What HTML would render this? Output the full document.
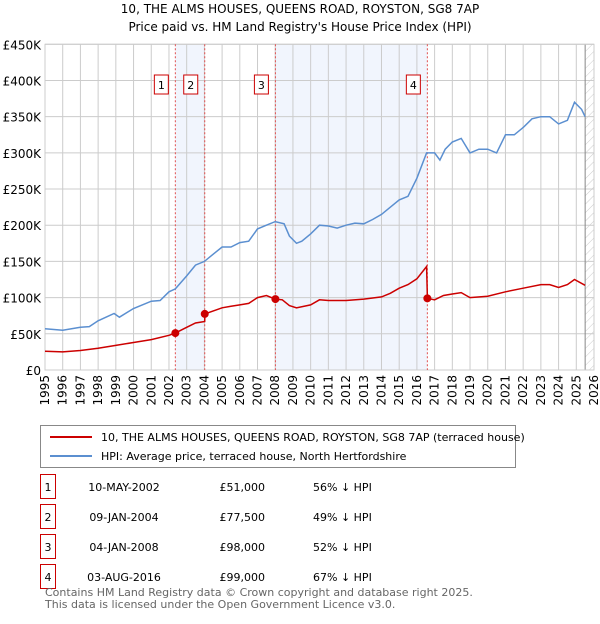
<!DOCTYPE html>
<html><head><meta charset="utf-8"><style>
body{margin:0;background:#fff;font-family:"DejaVu Sans","Liberation Sans",sans-serif;}
svg text{font-family:"DejaVu Sans","Liberation Sans",sans-serif;}
</style></head><body>
<svg id="chart" width="600" height="620" xmlns="http://www.w3.org/2000/svg">
<defs><pattern id="hatch" width="6" height="6" patternUnits="userSpaceOnUse" patternTransform="rotate(45)"><line x1="0" y1="0" x2="0" y2="6" stroke="#ccc" stroke-width="1"/></pattern></defs>
<text x="300" y="13" font-size="12" text-anchor="middle">10, THE ALMS HOUSES, QUEENS ROAD, ROYSTON, SG8 7AP</text>
<text x="300" y="31" font-size="12" text-anchor="middle">Price paid vs. HM Land Registry's House Price Index (HPI)</text>
<g id="plot"></g>
<g>
<rect x="40.5" y="425.5" width="475" height="42" fill="#fff" stroke="#888"/>
<line x1="50" y1="437" x2="92" y2="437" stroke="#cc0000" stroke-width="2"/>
<text x="101" y="441" font-size="11">10, THE ALMS HOUSES, QUEENS ROAD, ROYSTON, SG8 7AP (terraced house)</text>
<line x1="50" y1="456" x2="92" y2="456" stroke="#5b8fd0" stroke-width="2"/>
<text x="101" y="460" font-size="11">HPI: Average price, terraced house, North Hertfordshire</text>
</g>
<g id="table" font-size="11"></g>
<text x="45" y="596" font-size="11" fill="#666">Contains HM Land Registry data © Crown copyright and database right 2025.</text>
<text x="45" y="608" font-size="11" fill="#666">This data is licensed under the Open Government Licence v3.0.</text>
</svg>
<script>
const yTicks=[0,50,100,150,200,250,300,350,400,450];
const years=[1995,1996,1997,1998,1999,2000,2001,2002,2003,2004,2005,2006,2007,2008,2009,2010,2011,2012,2013,2014,2015,2016,2017,2018,2019,2020,2021,2022,2023,2024,2025,2026];
const hpiT=[1995,1996,1997,1997.5,1998,1998.9,1999.2,2000,2001,2001.5,2002,2002.36,2003,2003.5,2004,2004.5,2005,2005.5,2006,2006.5,2007,2007.5,2008,2008.5,2008.8,2009.2,2009.5,2010,2010.5,2011,2011.5,2012,2012.5,2013,2013.5,2014,2014.5,2015,2015.5,2016,2016.55,2017,2017.3,2017.6,2018,2018.5,2019,2019.5,2020,2020.5,2021,2021.5,2022,2022.5,2023,2023.5,2024,2024.5,2024.9,2025.3,2025.5];
const hpiV=[57,55,59,60,68,78,73,85,95,96,108,112,130,145,150,160,170,170,176,178,195,200,205,202,185,175,178,188,200,199,196,200,203,202,208,215,225,235,240,265,300,300,290,305,315,320,300,305,305,300,325,325,335,347,350,350,340,345,370,360,350];
const redT=[1995,1996,1997,1998,1999,2000,2001,2002,2002.36,2003,2003.5,2004.02,2004.03,2005,2005.5,2006,2006.5,2007,2007.5,2008,2008.4,2008.8,2009.2,2010,2010.5,2011,2012,2013,2014,2014.5,2015,2015.5,2016,2016.55,2016.59,2017,2017.5,2018,2018.5,2019,2020,2021,2022,2023,2023.5,2024,2024.5,2024.9,2025.5];
const redV=[26,25,27,30,34,38,42,48,51,59,65,67,77.5,86,88,90,92,100,103,98,97,89,86,90,97,96,96,98,101,106,113,118,126,143,99,97,103,105,107,100,102,108,113,118,118,114,118,125,117];
const saleLabels=["1","2","3","4"];
const saleT=[2002.36,2004.02,2008.01,2016.59];
const saleV=[51,77.5,98,99];
const saleDates=["10-MAY-2002","09-JAN-2004","04-JAN-2008","03-AUG-2016"];
const salePrices=["£51,000","£77,500","£98,000","£99,000"];
const salePct=["56% ↓ HPI","49% ↓ HPI","52% ↓ HPI","67% ↓ HPI"];
const X0=45,X1=594,Y0=370,Y1=44.3;
const xs=t=>X0+(t-1995)/31*(X1-X0);
const ys=v=>Y0-v/450*(Y0-Y1);
const NS="http://www.w3.org/2000/svg";
const plot=document.getElementById('plot');
function mk(tag,attrs,parent){const e=document.createElementNS(NS,tag);for(const k in attrs)e.setAttribute(k,attrs[k]);(parent||plot).appendChild(e);return e;}
let e;
e=mk('rect',{x:xs(saleT[0]),y:Y1,width:xs(saleT[1])-xs(saleT[0]),height:Y0-Y1,fill:'#eef3fc',opacity:0.8});


e=mk('rect',{x:xs(saleT[2]),y:Y1,width:xs(saleT[3])-xs(saleT[2]),height:Y0-Y1,fill:'#eef3fc',opacity:0.8});


e=mk('rect',{x:xs(2025.5),y:Y1,width:X1-xs(2025.5),height:Y0-Y1,fill:'url(#hatch)'});


yTicks.forEach(v=>{
 e=mk('line',{x1:X0,x2:X1,y1:ys(v),y2:ys(v),stroke:'#ccc','stroke-width':1});
 
 
 e=mk('text',{x:X0-4,y:ys(v)+5,'font-size':12,'text-anchor':'end'});e.textContent=v===0?'£0':'£'+v+'K';
 
 
});
years.forEach(y=>{
 e=mk('line',{x1:xs(y),x2:xs(y),y1:Y1,y2:Y0,stroke:'#ccc','stroke-width':1});
 
 
 e=mk('text',{x:0,y:0,'font-size':12,'text-anchor':'end',transform:`translate(${xs(y)+4},${Y0+5}) rotate(-90)`});e.textContent=y;
 
 
});
e=mk('line',{x1:xs(2025.5),x2:xs(2025.5),y1:Y1,y2:Y0,stroke:'#888','stroke-width':1});


e=mk('rect',{x:X0,y:Y1,width:X1-X0,height:Y0-Y1,fill:'none',stroke:'#ccc'});


saleT.forEach((t,i)=>{
 e=mk('line',{x1:xs(t),x2:xs(t),y1:Y1,y2:Y0,stroke:'#e05050','stroke-width':1,'stroke-dasharray':'2,2'});
 
 
 e=mk('rect',{x:xs(t)-21,y:75,width:14,height:19,fill:'#fff',stroke:'#cc0000'});
 
 
 e=mk('text',{x:xs(t)-14,y:89,'font-size':11,'text-anchor':'middle'});e.textContent=saleLabels[i];
 
 
});
const pts=(T,V)=>T.map((t,i)=>xs(t).toFixed(1)+','+ys(V[i]).toFixed(1)).join(' ');
e=mk('polyline',{points:pts(hpiT,hpiV),fill:'none',stroke:'#5b8fd0','stroke-width':1.5});


e=mk('polyline',{points:pts(redT,redV),fill:'none',stroke:'#cc0000','stroke-width':1.5});


saleT.forEach((t,i)=>{
 e=mk('circle',{cx:xs(t),cy:ys(saleV[i]),r:4,fill:'#cc0000'});
 
 
});
const tbl=document.getElementById('table');
saleLabels.forEach((l,i)=>{
 const y=487+i*30;
 e=mk('rect',{x:40.5,y:y-12.5,width:15,height:24,fill:'#fff',stroke:'#cc0000'},tbl);
 
 
 e=mk('text',{x:48,y:y+4,'text-anchor':'middle'},tbl);e.textContent=l;
 
 
 e=mk('text',{x:124,y:y+4,'text-anchor':'middle'},tbl);e.textContent=saleDates[i];
 
 
 e=mk('text',{x:265,y:y+4,'text-anchor':'end'},tbl);e.textContent=salePrices[i];
 
 
 e=mk('text',{x:313,y:y+4},tbl);e.textContent=salePct[i];
 
 
});
</script>
</body></html>
